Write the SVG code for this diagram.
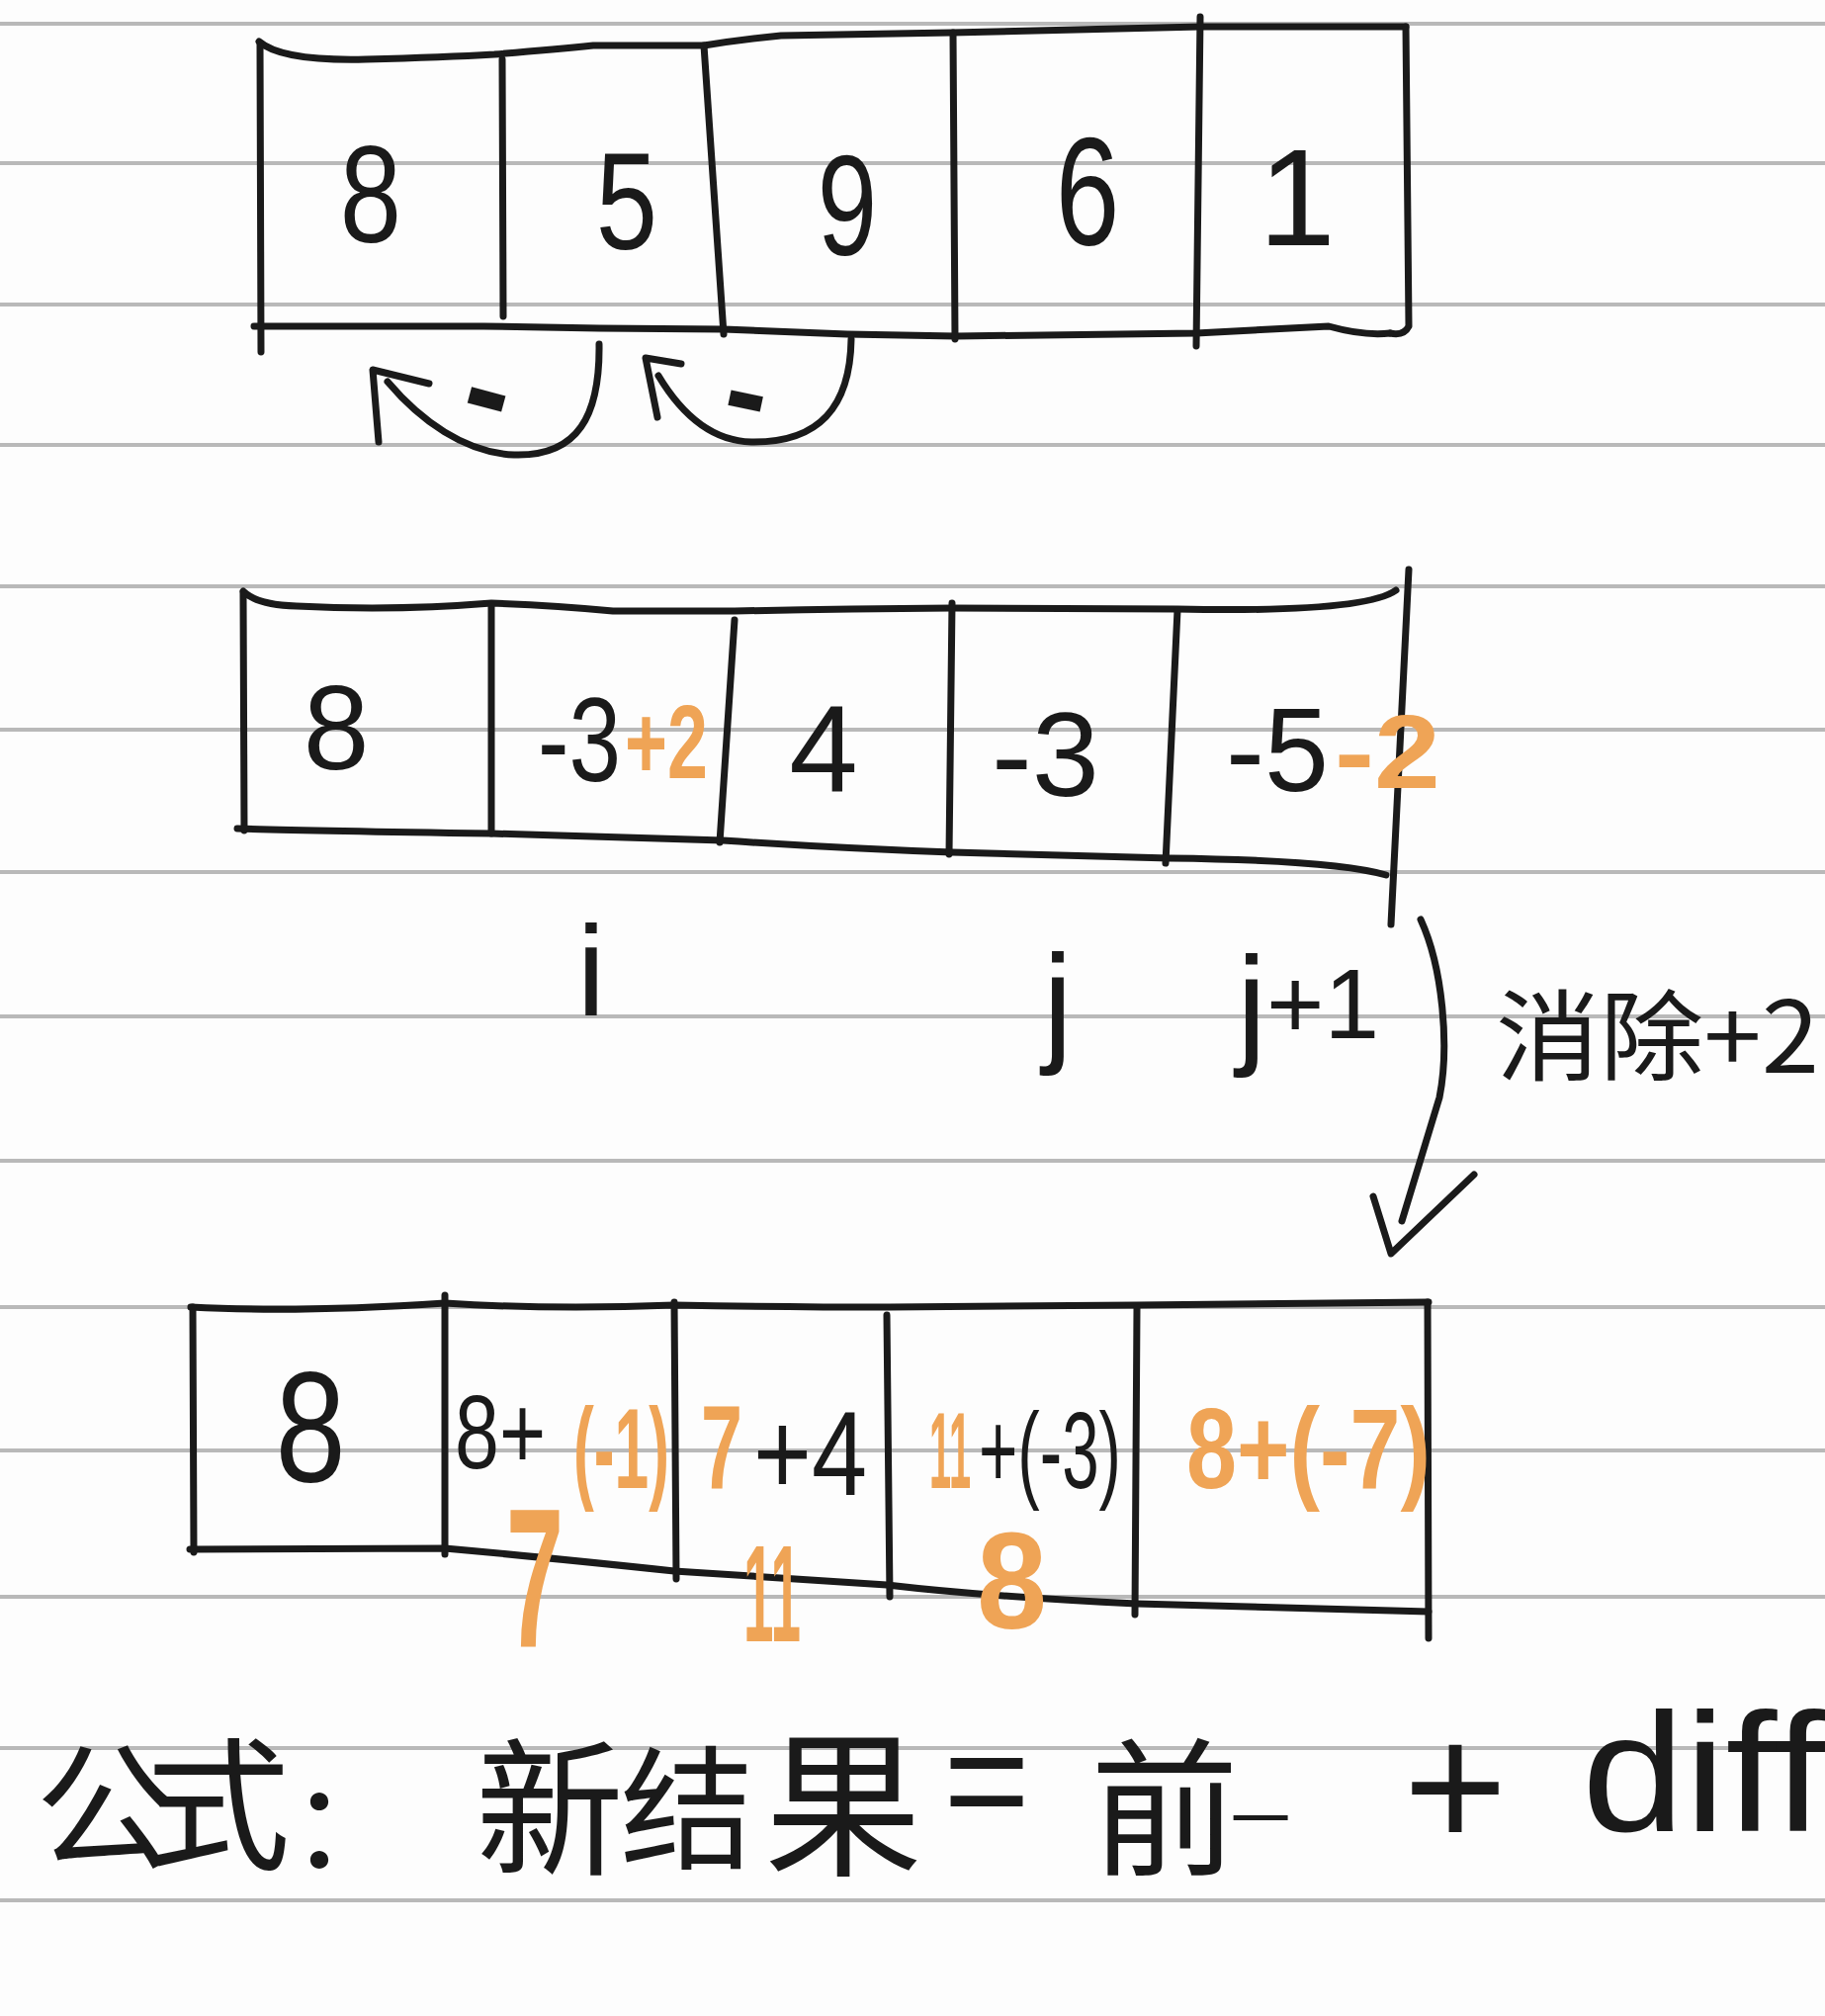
<svg xmlns="http://www.w3.org/2000/svg" width="1846" height="2039" viewBox="0 0 1846 2039">
<style>
.rule{stroke:#b9b9b9;stroke-width:4;fill:none}
.ln{stroke:#1a1a1a;stroke-width:7;fill:none;stroke-linecap:round;stroke-linejoin:round}
.t{font-family:"Liberation Sans","Noto Sans CJK SC",sans-serif;fill:#1a1a1a}
.c{font-family:"Noto Sans CJK SC","Liberation Sans",sans-serif;fill:#1a1a1a}
.o{fill:#EFA456;font-weight:bold}
.m{text-anchor:middle}
</style>
<rect width="1846" height="2039" fill="#fdfdfd"/>
<g id="paper-rules">
<line class="rule" x1="0" y1="24" x2="1846" y2="24"/>
<line class="rule" x1="0" y1="165" x2="1846" y2="165"/>
<line class="rule" x1="0" y1="308" x2="1846" y2="308"/>
<line class="rule" x1="0" y1="450" x2="1846" y2="450"/>
<line class="rule" x1="0" y1="593" x2="1846" y2="593"/>
<line class="rule" x1="0" y1="738" x2="1846" y2="738"/>
<line class="rule" x1="0" y1="882" x2="1846" y2="882"/>
<line class="rule" x1="0" y1="1028" x2="1846" y2="1028"/>
<line class="rule" x1="0" y1="1174" x2="1846" y2="1174"/>
<line class="rule" x1="0" y1="1322" x2="1846" y2="1322"/>
<line class="rule" x1="0" y1="1467" x2="1846" y2="1467"/>
<line class="rule" x1="0" y1="1615" x2="1846" y2="1615"/>
<line class="rule" x1="0" y1="1768" x2="1846" y2="1768"/>
<line class="rule" x1="0" y1="1922" x2="1846" y2="1922"/>
</g>

<g id="array-original">
<path class="ln" d="M262 42 Q285 62 370 60 Q450 58 500 55 Q560 50 600 46 L712 46 Q750 40 790 36 L963 33 L1214 27 L1422 27"/>
<path class="ln" d="M263 44 L264 356"/>
<path class="ln" d="M1422 27 L1425 330 Q1420 340 1406 337"/>
<path class="ln" d="M257 330 L489 330 L606 332 L732 333 L857 338 L967 340 L1210 337 L1344 330 Q1380 340 1406 337"/>
<path class="ln" d="M508 60 L509 320"/>
<path class="ln" d="M712 46 L732 338"/>
<path class="ln" d="M964 33 L966 343"/>
<path class="ln" d="M1214 17 L1210 350"/>
<g id="orig-0"><text class="t m" x="375" y="245" font-size="140" transform="translate(375 0) scale(0.8 1) translate(-375 0)">8</text></g>
<g id="orig-1"><text class="t m" x="634" y="252" font-size="140" transform="translate(634 0) scale(0.8 1) translate(-634 0)">5</text></g>
<g id="orig-2"><text class="t m" x="857" y="258" font-size="145" transform="translate(857 0) scale(0.75 1) translate(-857 0)">9</text></g>
<g id="orig-3"><text class="t m" x="1100" y="247" font-size="155" transform="translate(1100 0) scale(0.75 1) translate(-1100 0)">6</text></g>
<g id="orig-4"><text class="t m" x="1312" y="248" font-size="140">1</text></g>
</g>

<g id="array-diff">
<path class="ln" d="M246 598 Q260 612 300 613 Q400 618 497 610 Q560 612 620 618 L743 618 Q850 616 963 615 L1191 616 Q1380 620 1412 597"/>
<path class="ln" d="M246 600 L247 840"/>
<path class="ln" d="M1425 576 L1407 935"/>
<path class="ln" d="M240 838 Q300 840 497 843 Q600 846 731 850 Q850 858 963 862 L1183 868 Q1350 870 1402 885"/>
<path class="ln" d="M497 612 L497 843"/>
<path class="ln" d="M743 627 L728 852"/>
<path class="ln" d="M963 610 L960 864"/>
<path class="ln" d="M1191 617 L1179 873"/>
<g id="diff-0"><text class="t m" x="340" y="778" font-size="120">8</text></g>
<g id="diff-1"><text class="t" x="544" y="790" font-size="120" textLength="84" lengthAdjust="spacingAndGlyphs">-3</text><text class="t o" x="632" y="787" font-size="105" textLength="84" lengthAdjust="spacingAndGlyphs">+2</text></g>
<g id="diff-2"><text class="t m" x="833" y="800" font-size="125">4</text></g>
<g id="diff-3"><text class="t" x="1003" y="805" font-size="120" textLength="109" lengthAdjust="spacingAndGlyphs">-3</text></g>
<g id="diff-4"><text class="t" x="1240" y="800" font-size="120" textLength="104" lengthAdjust="spacingAndGlyphs">-5</text><text class="t o" x="1350" y="797" font-size="105" textLength="107" lengthAdjust="spacingAndGlyphs">-2</text></g>
</g>

<g id="index-labels">
<text class="t m" x="598" y="1027" font-size="130">i</text>
<text class="t m" x="1070" y="1060" font-size="135">j</text>
<text class="t" x="1251" y="1062" font-size="135">j<tspan font-size="100" dy="-12">+1</tspan></text>
<text class="c" x="1513" y="1085" font-size="100" textLength="327" lengthAdjust="spacingAndGlyphs">消除+2</text>
</g>

<g id="array-result">
<path class="ln" d="M193 1322 Q300 1328 450 1318 Q560 1325 682 1320 Q800 1322 900 1322 L1150 1320 L1445 1317"/>
<path class="ln" d="M195 1322 L196 1570"/>
<path class="ln" d="M1444 1317 L1445 1657"/>
<path class="ln" d="M192 1567 L450 1566 Q550 1575 682 1589 L897 1603 Q1000 1615 1150 1622 L1445 1630"/>
<path class="ln" d="M450 1310 L450 1572"/>
<path class="ln" d="M682 1317 L684 1597"/>
<path class="ln" d="M897 1330 L900 1615"/>
<path class="ln" d="M1150 1323 L1148 1633"/>
<g id="res-0"><text class="t m" x="314" y="1498" font-size="160" transform="translate(314 0) scale(0.8 1) translate(-314 0)">8</text></g>
<g id="res-1"><text class="t" x="460" y="1485" font-size="105" textLength="92" lengthAdjust="spacingAndGlyphs">8+</text><text class="t o" x="580" y="1505" font-size="115" textLength="97" lengthAdjust="spacingAndGlyphs">(-1)</text><text class="t o" x="512" y="1665" font-size="200" textLength="58" lengthAdjust="spacingAndGlyphs">7</text></g>
<g id="res-2"><text class="t o" x="709" y="1505" font-size="120" textLength="42" lengthAdjust="spacingAndGlyphs">7</text><text class="t" x="762" y="1512" font-size="120" textLength="115" lengthAdjust="spacingAndGlyphs">+4</text><text class="t o" x="752" y="1660" font-size="140" textLength="58" lengthAdjust="spacingAndGlyphs">11</text></g>
<g id="res-3"><text class="t o" x="940" y="1505" font-size="110" textLength="42" lengthAdjust="spacingAndGlyphs">11</text><text class="t" x="990" y="1505" font-size="110" textLength="144" lengthAdjust="spacingAndGlyphs">+(-3)</text><text class="t o" x="988" y="1647" font-size="140" textLength="71" lengthAdjust="spacingAndGlyphs">8</text></g>
<g id="res-4"><text class="t o" x="1200" y="1505" font-size="115" textLength="247" lengthAdjust="spacingAndGlyphs">8+(-7)</text></g>
</g>

<g id="connectors">
<path class="ln" d="M606 348 C607 420 585 462 520 460 C470 458 425 425 392 386"/>
<polyline class="ln" points="434,388 377,374 383,447"/>
<path class="ln" d="M861 343 C860 410 830 448 760 447 C720 446 690 420 666 380"/>
<polyline class="ln" points="689,368 653,362 665,422"/>
<path class="ln" d="M1437 930 C1460 980 1466 1060 1456 1110 Q1435 1180 1418 1235"/>
<polyline class="ln" points="1389,1210 1407,1268 1491,1188"/>
<text class="t" x="490" y="440" font-size="140" font-weight="bold" transform="rotate(15 490 412)" text-anchor="middle">-</text>
<text class="t" x="753" y="439" font-size="130" font-weight="bold" transform="rotate(12 753 411)" text-anchor="middle">-</text>
</g>

<g id="formula">
<text class="c m" x="106" y="1880" font-size="140">公</text>
<text class="c m" x="221" y="1880" font-size="145">式</text>
<text class="c m" x="353" y="1890" font-size="120">：</text>
<text class="c m" x="556" y="1885" font-size="150">新</text>
<text class="c m" x="695" y="1880" font-size="135">结</text>
<text class="c m" x="853" y="1885" font-size="160">果</text>
<text class="t m" x="998" y="1852" font-size="150">=</text>
<text class="c m" x="1178" y="1885" font-size="150">前</text>
<text class="c m" x="1275" y="1862" font-size="60">一</text>
<text class="t m" x="1472" y="1869" font-size="180">+</text>
<text class="t" x="1600" y="1852" font-size="170" textLength="246" lengthAdjust="spacingAndGlyphs">diff</text>
</g>
</svg>
